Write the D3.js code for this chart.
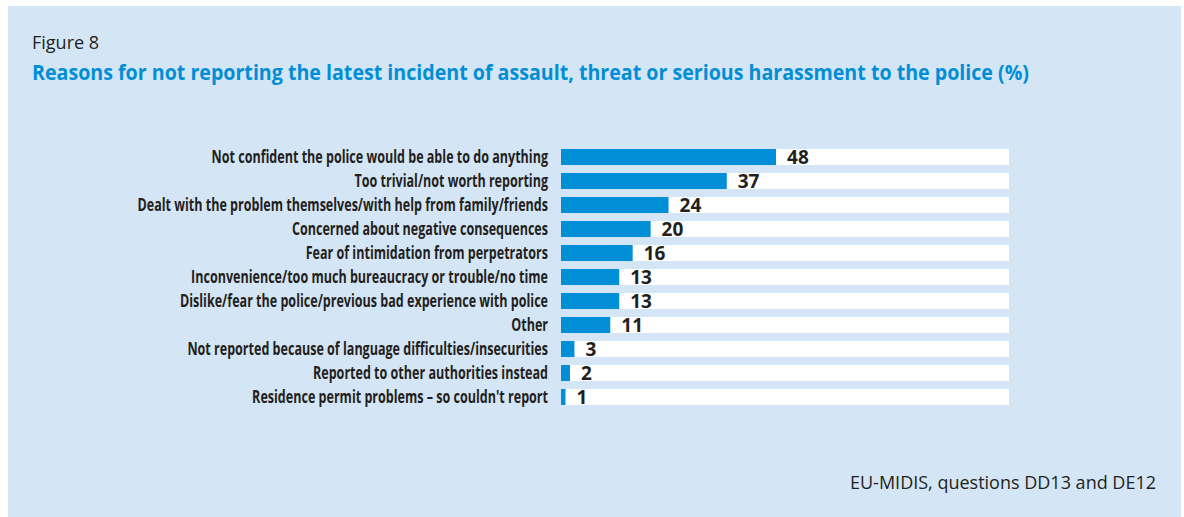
<!DOCTYPE html>
<html>
<head>
<meta charset="utf-8">
<script src="https://cdn.jsdelivr.net/npm/d3@7"></script>
<style>
  html, body { margin: 0; padding: 0; background: #fff; }
  svg { display: block; }
</style>
</head>
<body>
<script>
// chart data
const reasons = [
  'Not confident the police would be able to do anything',
  'Too trivial/not worth reporting',
  'Dealt with the problem themselves/with help from family/friends',
  'Concerned about negative consequences',
  'Fear of intimidation from perpetrators',
  'Inconvenience/too much bureaucracy or trouble/no time',
  'Dislike/fear the police/previous bad experience with police',
  'Other',
  'Not reported because of language difficulties/insecurities',
  'Reported to other authorities instead',
  'Residence permit problems \u2013 so couldn\'t report'
]
const percents = [48, 37, 24, 20, 16, 13, 13, 11, 3, 2, 1]
const figureLabel = 'Figure 8'
const title = 'Reasons for not reporting the latest incident of assault, threat or serious harassment to the police (%)'
const source = 'EU-MIDIS, questions DD13 and DE12'

const width = 1184
const height = 517
const blue = '#008ed6'
const ink = '#231f20'

const svg = d3.select('body').append('svg')
  .attr('width', width)
  .attr('height', height)

// background panel
svg.append('rect')
  .attr('x', 8).attr('y', 6)
  .attr('width', 1173).attr('height', height - 6)
  .attr('fill', '#d4e5f5')

svg.append('text')
  .attr('x', 32).attr('y', 49)
  .attr('font-family', 'Open Sans')
  .attr('font-size', 18)
  .attr('fill', ink)
  .text(figureLabel)

svg.append('text')
  .attr('x', 32).attr('y', 80)
  .attr('font-family', 'Open Sans')
  .attr('font-weight', 700)
  .attr('font-size', 22)
  .attr('fill', blue)
  .attr('textLength', 997)
  .attr('lengthAdjust', 'spacingAndGlyphs')
  .text(title)

// scales
const x = d3.scaleLinear()
  .domain([0, 100])
  .range([561, 1009])

const y = d3.scaleBand()
  .domain(reasons)
  .range([145, 409])
  .paddingInner(1 / 3)
  .paddingOuter(1 / 6)

const rows = svg.append('g')
  .selectAll('g')
  .data(reasons)
  .join('g')

// white track behind each bar
rows.append('rect')
  .attr('x', x(0))
  .attr('y', d => y(d))
  .attr('width', x(100) - x(0))
  .attr('height', y.bandwidth())
  .attr('fill', '#fff')

rows.append('rect')
  .attr('x', x(0))
  .attr('y', d => y(d))
  .attr('width', (d, i) => x(percents[i]) - x(0))
  .attr('height', y.bandwidth())
  .attr('fill', blue)

// category labels, squeezed horizontally to look like a condensed face
const labels = rows.append('text')
  .attr('text-anchor', 'end')
  .attr('font-family', 'Open Sans')
  .attr('font-weight', 700)
  .attr('font-size', 18)
  .attr('fill', ink)
  .text(d => d)

const widest = d3.max(labels.nodes(), n => n.getComputedTextLength())
const squeeze = 411 / widest
labels.attr('transform', d =>
  `translate(548,${y(d) + y.bandwidth() / 2 + 6}) scale(${squeeze},1)`)

// value labels
rows.append('text')
  .attr('x', (d, i) => x(percents[i]) + 11)
  .attr('y', d => y(d) + y.bandwidth() / 2)
  .attr('dy', '0.37em')
  .attr('font-family', 'Open Sans')
  .attr('font-weight', 700)
  .attr('font-size', 19)
  .attr('fill', ink)
  .text((d, i) => percents[i])

svg.append('text')
  .attr('x', 1156).attr('y', 489)
  .attr('text-anchor', 'end')
  .attr('font-family', 'Open Sans')
  .attr('font-size', 18)
  .attr('fill', ink)
  .text(source)
</script>
</body>
</html>
